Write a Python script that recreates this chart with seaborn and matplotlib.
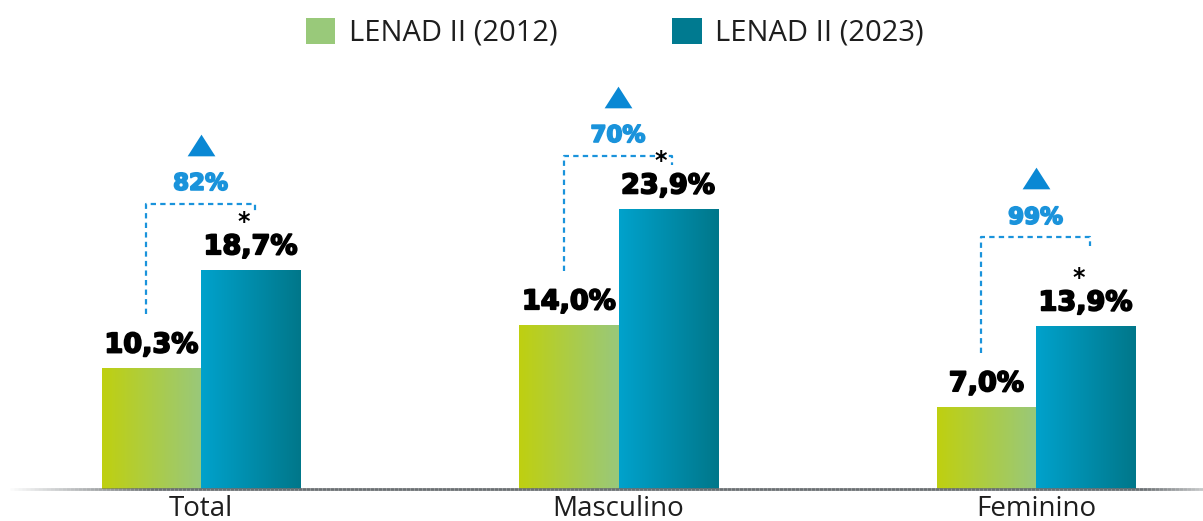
import numpy as np
import pandas as pd
import seaborn as sns
import matplotlib.pyplot as plt
import matplotlib.patheffects as pe
from matplotlib.colors import LinearSegmentedColormap
from matplotlib.collections import LineCollection
from matplotlib.patches import Patch

# data
grupos = ['Total', 'Masculino', 'Feminino']
anos = ['LENAD II (2012)', 'LENAD II (2023)']
v2012 = [10.3, 14.0, 7.0]
v2023 = [18.7, 23.9, 13.9]
aumento = ['82%', '70%', '99%']

# height of the dashed bracket over each group (in % units)
bracket_y = [24.4, 28.5, 21.5]

verde_cmap = LinearSegmentedColormap.from_list('verde', ['#bfd010', '#99c87b'])
azul_cmap = LinearSegmentedColormap.from_list('azul', ['#00a2cc', '#00778a'])
cor_leg = ['#99c97a', '#007a90']
azul_txt = '#1a93db'

df = pd.DataFrame({
    'grupo': grupos * 2,
    'valor': v2012 + v2023,
    'ano': [anos[0]] * 3 + [anos[1]] * 3,
})

sns.set_style('white')
plt.rcParams['font.family'] = ['Open Sans', 'DejaVu Sans']

fig = plt.figure(figsize=(12.03, 5.21), dpi=100)
ax = fig.add_axes([0, 32 / 521, 1, 489 / 521])

sns.barplot(data=df, x='grupo', y='valor', hue='ano', order=grupos, hue_order=anos,
            palette=cor_leg, width=0.475, gap=0, legend=False, ax=ax)

xlim = (-201 / 417.5, 1002 / 417.5)
ylim = (0, 489 / 11.7)
ax.set_xlim(*xlim)
ax.set_ylim(*ylim)

# gradient fill for every bar
grad = np.linspace(0, 1, 256).reshape(1, -1)
for cont, cmap in zip(ax.containers, [verde_cmap, azul_cmap]):
    for p in cont:
        x0, w, h = p.get_x(), p.get_width(), p.get_height()
        ax.imshow(grad, cmap=cmap, aspect='auto', extent=[x0, x0 + w, 0, h],
                  interpolation='bicubic', zorder=2)
        p.set_visible(False)
ax.set_xlim(*xlim)
ax.set_ylim(*ylim)


def px(x, y, dx=0, dy=0):
    # data point shifted by a pixel offset
    d = ax.transData.transform((x, y)) + np.array([dx, dy])
    return ax.transData.inverted().transform(d)


def fmt(v):
    return f'{v:.1f}'.replace('.', ',') + '%'


def heavy(c):
    return [pe.withStroke(linewidth=1.3, foreground=c)]


lbl_kw = dict(ha='center', va='baseline', fontsize=19.5, fontweight='bold',
              family='DejaVu Sans', color='black', textcoords='offset points', zorder=5,
              path_effects=heavy('black'))

for i in range(len(grupos)):
    b0 = ax.containers[0][i]
    b1 = ax.containers[1][i]
    c0 = b0.get_x() + b0.get_width() / 2
    c1 = b1.get_x() + b1.get_width() / 2

    ax.annotate(fmt(v2012[i]), (c0, v2012[i]), xytext=(0, 11.5), **lbl_kw)
    ax.annotate(fmt(v2023[i]), (c1, v2023[i]), xytext=(0, 11.5), **lbl_kw)
    ax.annotate('*', (c1, v2023[i]), xytext=(-5, 30), textcoords='offset points',
                ha='center', va='baseline', fontsize=17, fontweight='bold',
                family='DejaVu Sans', color='black', zorder=5)

    # dashed bracket
    xa, ya = px(c0, v2012[i], -5, 54)
    xb, _ = px(c1, v2023[i], 4, 0)
    yt = bracket_y[i]
    _, yd = px(c1, yt, 0, -9)
    ax.plot([xa, xa, xb, xb], [ya, yt, yt, yd], color=azul_txt, lw=1.6,
            ls=(0, (2.4, 1.9)), zorder=4, solid_capstyle='butt')

    xm = (xa + xb) / 2
    ax.annotate(aumento[i], (xm, yt), xytext=(0, 14.5), textcoords='offset points',
                ha='center', va='center', fontsize=16.5, fontweight='bold',
                family='DejaVu Sans', color=azul_txt, zorder=5,
                path_effects=heavy(azul_txt))
    tri = [(-1, -0.78), (1, -0.78), (0, 0.78)]
    _, ytri = px(xm, yt, 0, 59)
    ax.plot([xm], [ytri], marker=tri, markersize=20, color='#0a88d4',
            markeredgewidth=0, zorder=5)

# baseline with faded ends
xs = np.linspace(0.005, 1.0, 300)
alpha = np.clip(np.minimum((xs - 0.005) / 0.12, (1.0 - xs) / 0.08 + 0.35), 0, 1)
segs = [[(xs[k], 0), (xs[k + 1], 0)] for k in range(len(xs) - 1)]
cols = [(0.42, 0.44, 0.45, a) for a in alpha[:-1]]
lc = LineCollection(segs, colors=cols, linewidths=2.0, transform=ax.transAxes,
                    zorder=3, clip_on=False)
ax.add_collection(lc)

sns.despine(ax=ax, left=True, bottom=True, top=True, right=True)
ax.set_yticks([])
ax.set_xlabel('')
ax.set_ylabel('')
ax.tick_params(axis='x', length=0, pad=4, labelsize=20, labelcolor='#1e1e1e')

handles = [Patch(facecolor=c, edgecolor='none') for c in cor_leg]
fig.legend(handles, anos, loc='center', bbox_to_anchor=(0.511, 1 - 33 / 521), ncol=2,
           frameon=False, fontsize=21, handlelength=1.0, handleheight=0.97,
           handletextpad=0.45, columnspacing=3.95, labelcolor='#1e1e1e')

fig.savefig('out.png', dpi=100)
